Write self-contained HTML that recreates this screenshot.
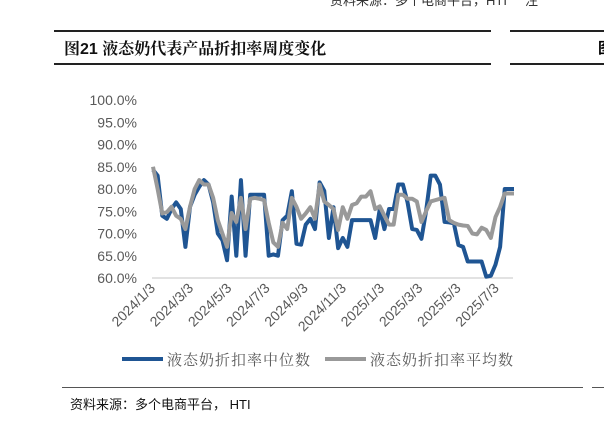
<!DOCTYPE html>
<html><head><meta charset="utf-8"><style>
body{margin:0;width:604px;height:421px;background:#fff;overflow:hidden;position:relative;font-family:"Liberation Sans","Noto Sans CJK SC",sans-serif}
.abs{position:absolute}
</style></head><body>
<div class="abs" style="left:330px;top:-10px;font-size:13px;color:#333;white-space:nowrap">资料来源：多个电商平台，HTI &nbsp; &nbsp; 注</div>
<div class="abs" style="left:54px;top:30px;width:437px;height:2px;background:#222"></div>
<div class="abs" style="left:54px;top:63px;width:437px;height:2px;background:#222"></div>
<div class="abs" style="left:510px;top:30px;width:94px;height:2px;background:#222"></div>
<div class="abs" style="left:510px;top:63px;width:94px;height:2px;background:#222"></div>
<div class="abs" style="left:64px;top:36px;font-size:16px;font-weight:bold;color:#111;white-space:nowrap;font-family:'Liberation Sans','Noto Serif CJK SC',serif">图21 液态奶代表产品折扣率周度变化</div>
<div class="abs" style="left:598px;top:37px;font-size:15px;font-weight:bold">图</div>
<svg class="abs" style="left:0;top:0" width="604" height="421">
<g id="g"></g>
</svg>
<div class="abs" style="left:62px;top:387px;width:521px;height:1px;background:#555"></div>
<div class="abs" style="left:592px;top:387px;width:12px;height:1px;background:#555"></div>
<div class="abs" style="left:70px;top:394px;font-size:13px;color:#111;white-space:nowrap">资料来源：多个电商平台， HTI</div>
<script>
const yTicks=[60,65,70,75,80,85,90,95,100];
const xLabels=["2024/1/3","2024/3/3","2024/5/3","2024/7/3","2024/9/3","2024/11/3","2025/1/3","2025/3/3","2025/5/3","2025/7/3"];
const median=[84.3,83,74,73.3,75.5,77,75.5,67,76,78.7,80.5,82,81,77,70,68.5,64,78.3,65,82,65,78.7,78.7,78.7,78.7,65,65.3,65,73,74,79.5,67.7,67.5,72,73.3,71,81.5,79.6,69,75.9,66.7,69,67,73,73,73,73,73,69,75.5,71,75.5,75.5,81,81,77,71,70.8,68.8,75,83,83,81,72.6,72.5,72.3,67.4,67,63.7,63.7,63.7,63.7,60.3,60.5,63,67,80,80,80];
const mean=[85,80,74.5,74.8,76,74,73.3,71,76,80,82,81,81,78,73,70,67,74.6,72.6,78,71,77.8,78,77.8,77.5,72.4,68,67,72.4,71,78,76,73.3,74.5,75.9,73.3,81,77.2,76.4,75.5,70.8,75.9,73.3,76.4,76.8,78.3,78.3,79.5,75.5,76.1,74,72,72,78.7,78.7,77.8,77.8,77.2,72.6,75,77.2,77.5,77.8,78,73,72.4,72,71.8,71.7,70,69.8,71.3,70.8,69,73.7,76,79,79,79];
const NS='http://www.w3.org/2000/svg';
const g=document.getElementById('g');
const yS=v=>278-(v-60)*4.45;
const xS=i=>153+i*(514-153)/(median.length-1);
function mk(t,a){const e=document.createElementNS(NS,t);for(const k in a)e.setAttribute(k,a[k]);g.appendChild(e);return e;}
const ax=mk('line',{x1:152,x2:513,y1:278,y2:278,stroke:'#d9d9d9','stroke-width':1.5});


yTicks.forEach(v=>{const t=mk('text',{x:137,y:yS(v)+5,'text-anchor':'end','font-size':14,fill:'#595959','font-family':'Liberation Sans,sans-serif'});t.textContent=v.toFixed(1)+'%';

});
xLabels.forEach((s,k)=>{const x=156+k*38.2,y=289;const t=mk('text',{x:x,y:y,'text-anchor':'end','font-size':14,fill:'#595959','font-family':'Liberation Sans,sans-serif',transform:`rotate(-45 ${x} ${y})`});t.textContent=s;

});
function line(d,c,n){const p=mk('polyline',{points:d.map((v,i)=>xS(i)+','+yS(v)).join(' '),fill:'none',stroke:c,'stroke-width':4,'stroke-linejoin':'round'});

}
line(median,'#1f5593','median-line');
line(mean,'#999999','mean-line');
const l1=mk('line',{x1:122,x2:163,y1:359,y2:359,stroke:'#1f5593','stroke-width':4});


const t1=mk('text',{x:167,y:365,'font-size':15,'letter-spacing':1,fill:'#595959','font-family':'Noto Serif CJK SC,serif'});t1.textContent='液态奶折扣率中位数';


const l2=mk('line',{x1:325,x2:366,y1:359,y2:359,stroke:'#999999','stroke-width':4});


const t2=mk('text',{x:370,y:365,'font-size':15,'letter-spacing':1,fill:'#595959','font-family':'Noto Serif CJK SC,serif'});t2.textContent='液态奶折扣率平均数';


</script>
</body></html>
